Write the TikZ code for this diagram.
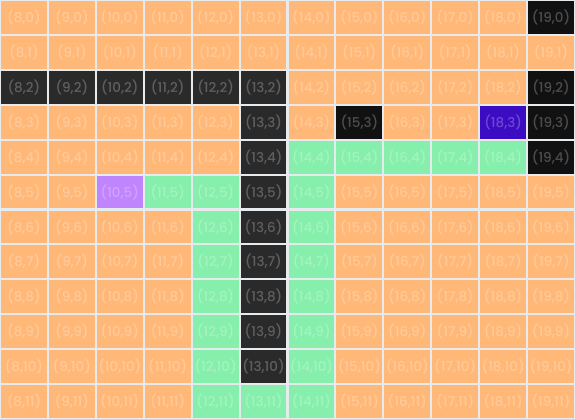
\documentclass[tikz,border=0pt]{standalone}
\usepackage{fontspec}
\setmainfont{Poppins}
\newfontfamily\cellfont{Poppins Medium}
\definecolor{gridline}{HTML}{E8EBEE}
\definecolor{open}{HTML}{FFB878}
\definecolor{path}{HTML}{86EFAC}
\definecolor{wall}{HTML}{2A2A2A}
\definecolor{edge}{HTML}{111111}
\definecolor{goal}{HTML}{3C0CC2}
\definecolor{start}{HTML}{C084FC}

% cell colours that are not the default
\def\setcell#1#2#3{\expandafter\def\csname cc-#1-#2\endcsname{#3}}
\foreach \x in {8,...,13} {\expandafter\xdef\csname cc-\x-2\endcsname{wall}}
\foreach \y in {3,...,10} {\expandafter\xdef\csname cc-13-\y\endcsname{wall}}
\foreach \y in {0,2,3,4} {\expandafter\xdef\csname cc-19-\y\endcsname{edge}}
\setcell{15}{3}{edge}
\setcell{18}{3}{goal}
\setcell{10}{5}{start}
\foreach \x in {14,...,18} {\expandafter\xdef\csname cc-\x-4\endcsname{path}}
\foreach \y in {5,...,11} {\expandafter\xdef\csname cc-14-\y\endcsname{path}}
\foreach \y in {5,...,11} {\expandafter\xdef\csname cc-12-\y\endcsname{path}}
\setcell{11}{5}{path}
\setcell{13}{11}{path}

\begin{document}
\begin{tikzpicture}[x=1pt,y=1pt,
 cell/.style={minimum width=45.9pt,minimum height=32.9pt,inner sep=0pt,
  text=white,text opacity=0.25,font=\cellfont\fontsize{13.5}{16}\selectfont}]
\def\cw{47.917}
\def\ch{34.917}
\fill[gridline] (0,0) rectangle (575,-419);
\useasboundingbox (0,0) rectangle (575,-419);
\foreach \x in {8,...,19}
 \foreach \y in {0,...,11} {
  \ifcsname cc-\x-\y\endcsname
   \edef\cc{\csname cc-\x-\y\endcsname}%
  \else
   \def\cc{open}%
  \fi
  \node[cell,fill=\cc] (c-\x-\y) at ({(\x-8)*\cw+\cw/2},{-\y*\ch-\ch/2}) {(\x,\y)};
 }
\end{tikzpicture}
\end{document}
